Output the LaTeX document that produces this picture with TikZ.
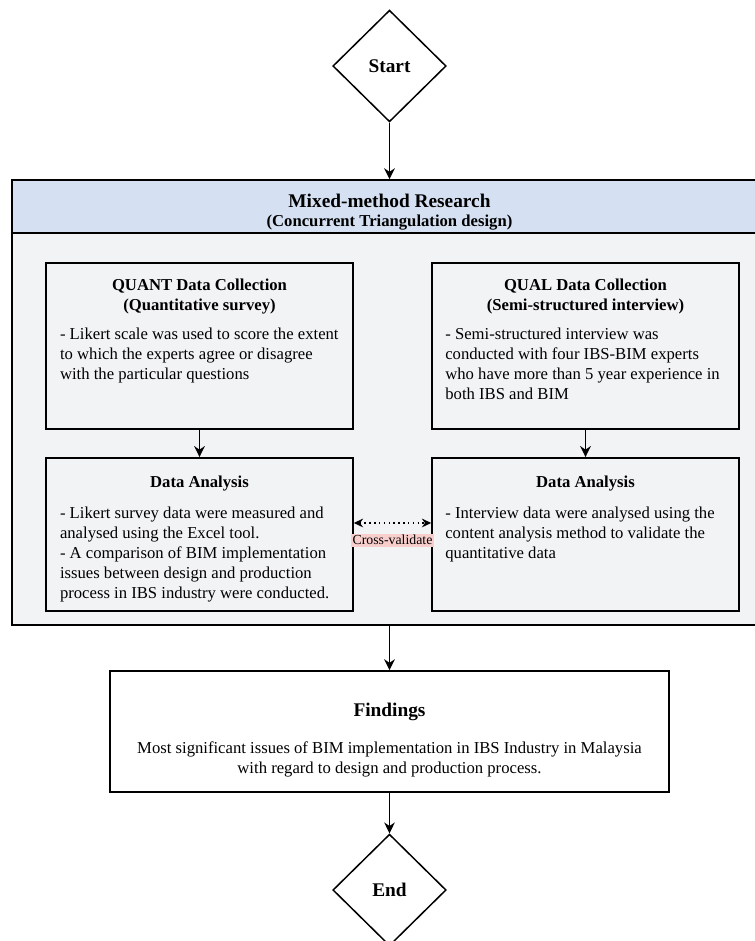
\documentclass[tikz,border=0pt]{standalone}
\usepackage{fontspec}
\setmainfont{Liberation Serif}
\usepackage{xcolor}
\usetikzlibrary{arrows.meta, positioning, shapes.geometric}

\definecolor{headblue}{RGB}{213,225,242}
\definecolor{panelgray}{RGB}{242,243,245}
\definecolor{xvpink}{RGB}{248,206,204}

\begin{document}
\begin{tikzpicture}[
x=0.6pt, y=-0.6pt,
line width=0.9pt,
decision/.style={diamond, draw, fill=white, inner sep=0pt, minimum width=68pt, minimum height=67pt, font=\bfseries\fontsize{11.6}{14}\selectfont},
box/.style={rectangle, draw, inner sep=0pt, minimum width=184.2pt},
lane/.style={rectangle, draw, inner sep=0pt, minimum width=453pt},
boxtitle/.style={inner sep=0pt, align=center, font=\bfseries\fontsize{10}{12}\selectfont},
boxtext/.style={inner sep=0pt, align=left, font=\fontsize{10}{12}\selectfont},
arrow/.style={-{Stealth[length=6.6pt, width=6.4pt]}},
xarrow/.style={{Stealth[length=5.6pt, width=5.2pt]}-{Stealth[length=5.6pt, width=5.2pt]}, dotted},
xvlabel/.style={fill=xvpink, inner sep=1pt, font=\fontsize{8.3}{10}\selectfont}
]
\useasboundingbox (0,0) rectangle (755,941);

\node[decision] (start) at (389.5,66) {Start};
\node[lane, fill=panelgray, minimum height=235.2pt] (panel) at (389.5,429) {};
\node[lane, fill=headblue, minimum height=31.8pt] (head) at (389.5,206.5) {};
\node[boxtitle, font=\bfseries\fontsize{11.6}{11.2}\selectfont, below=8.6pt of head.north] (headtitle) {Mixed-method Research\\{\fontsize{10}{12}\selectfont (Concurrent Triangulation design)}};

\node[box, minimum height=99.6pt] (quant) at (199.5,346) {};
\node[box, minimum height=99.6pt] (qual) at (585.5,346) {};
\node[box, minimum height=91.8pt] (quantda) at (199.5,534.3) {};
\node[box, minimum height=91.8pt] (qualda) at (585.5,534.3) {};
\node[box, fill=white, minimum width=335.4pt, minimum height=72.6pt] (findings) at (389.5,731.5) {};
\node[decision] (finish) at (389.5,890) {End};

\node[boxtitle, below=9.6pt of quant.north] (quanttitle) {QUANT Data Collection\\(Quantitative survey)};
\node[boxtext, below right=38.8pt and 8.4pt of quant.north west] (quanttext) {- Likert scale was used to score the extent\\to which the experts agree or disagree\\with the particular questions};
\node[boxtitle, below=9.6pt of qual.north] (qualtitle) {QUAL Data Collection\\(Semi-structured interview)};
\node[boxtext, below right=38.8pt and 8pt of qual.north west] (qualtext) {- Semi-structured interview was\\conducted with four IBS-BIM experts\\who have more than 5 year experience in\\both IBS and BIM};
\node[boxtitle, below=11.1pt of quantda.north] (quantdatitle) {Data Analysis};
\node[boxtext, below right=29.4pt and 8.4pt of quantda.north west] (quantdatext) {- Likert survey data were measured and\\analysed using the Excel tool.\\- A comparison of BIM implementation\\issues between design and production\\process in IBS industry were conducted.};
\node[boxtitle, below=11.1pt of qualda.north] (qualdatitle) {Data Analysis};
\node[boxtext, below right=29.4pt and 8pt of qualda.north west] (qualdatext) {- Interview data were analysed using the\\content analysis method to validate the\\quantitative data};
\node[boxtitle, font=\bfseries\fontsize{11.6}{14}\selectfont, below=19pt of findings.north] (findingstitle) {Findings};
\node[boxtext, align=center, below=42.2pt of findings.north] (findingstext) {Most significant issues of BIM implementation in IBS Industry in Malaysia\\with regard to design and production process.};

\draw[arrow] (start) -- (head);
\draw[arrow] (quant) -- (quantda);
\draw[arrow] (qual) -- (qualda);
\draw[xarrow] ([yshift=6.8pt]quantda.east) -- ([yshift=6.8pt]qualda.west) node[xvlabel, midway, below=6pt] (xval) {Cross-validate};
\draw[arrow] (panel) -- (findings);
\draw[arrow] (findings) -- (finish);

\end{tikzpicture}
\end{document}
